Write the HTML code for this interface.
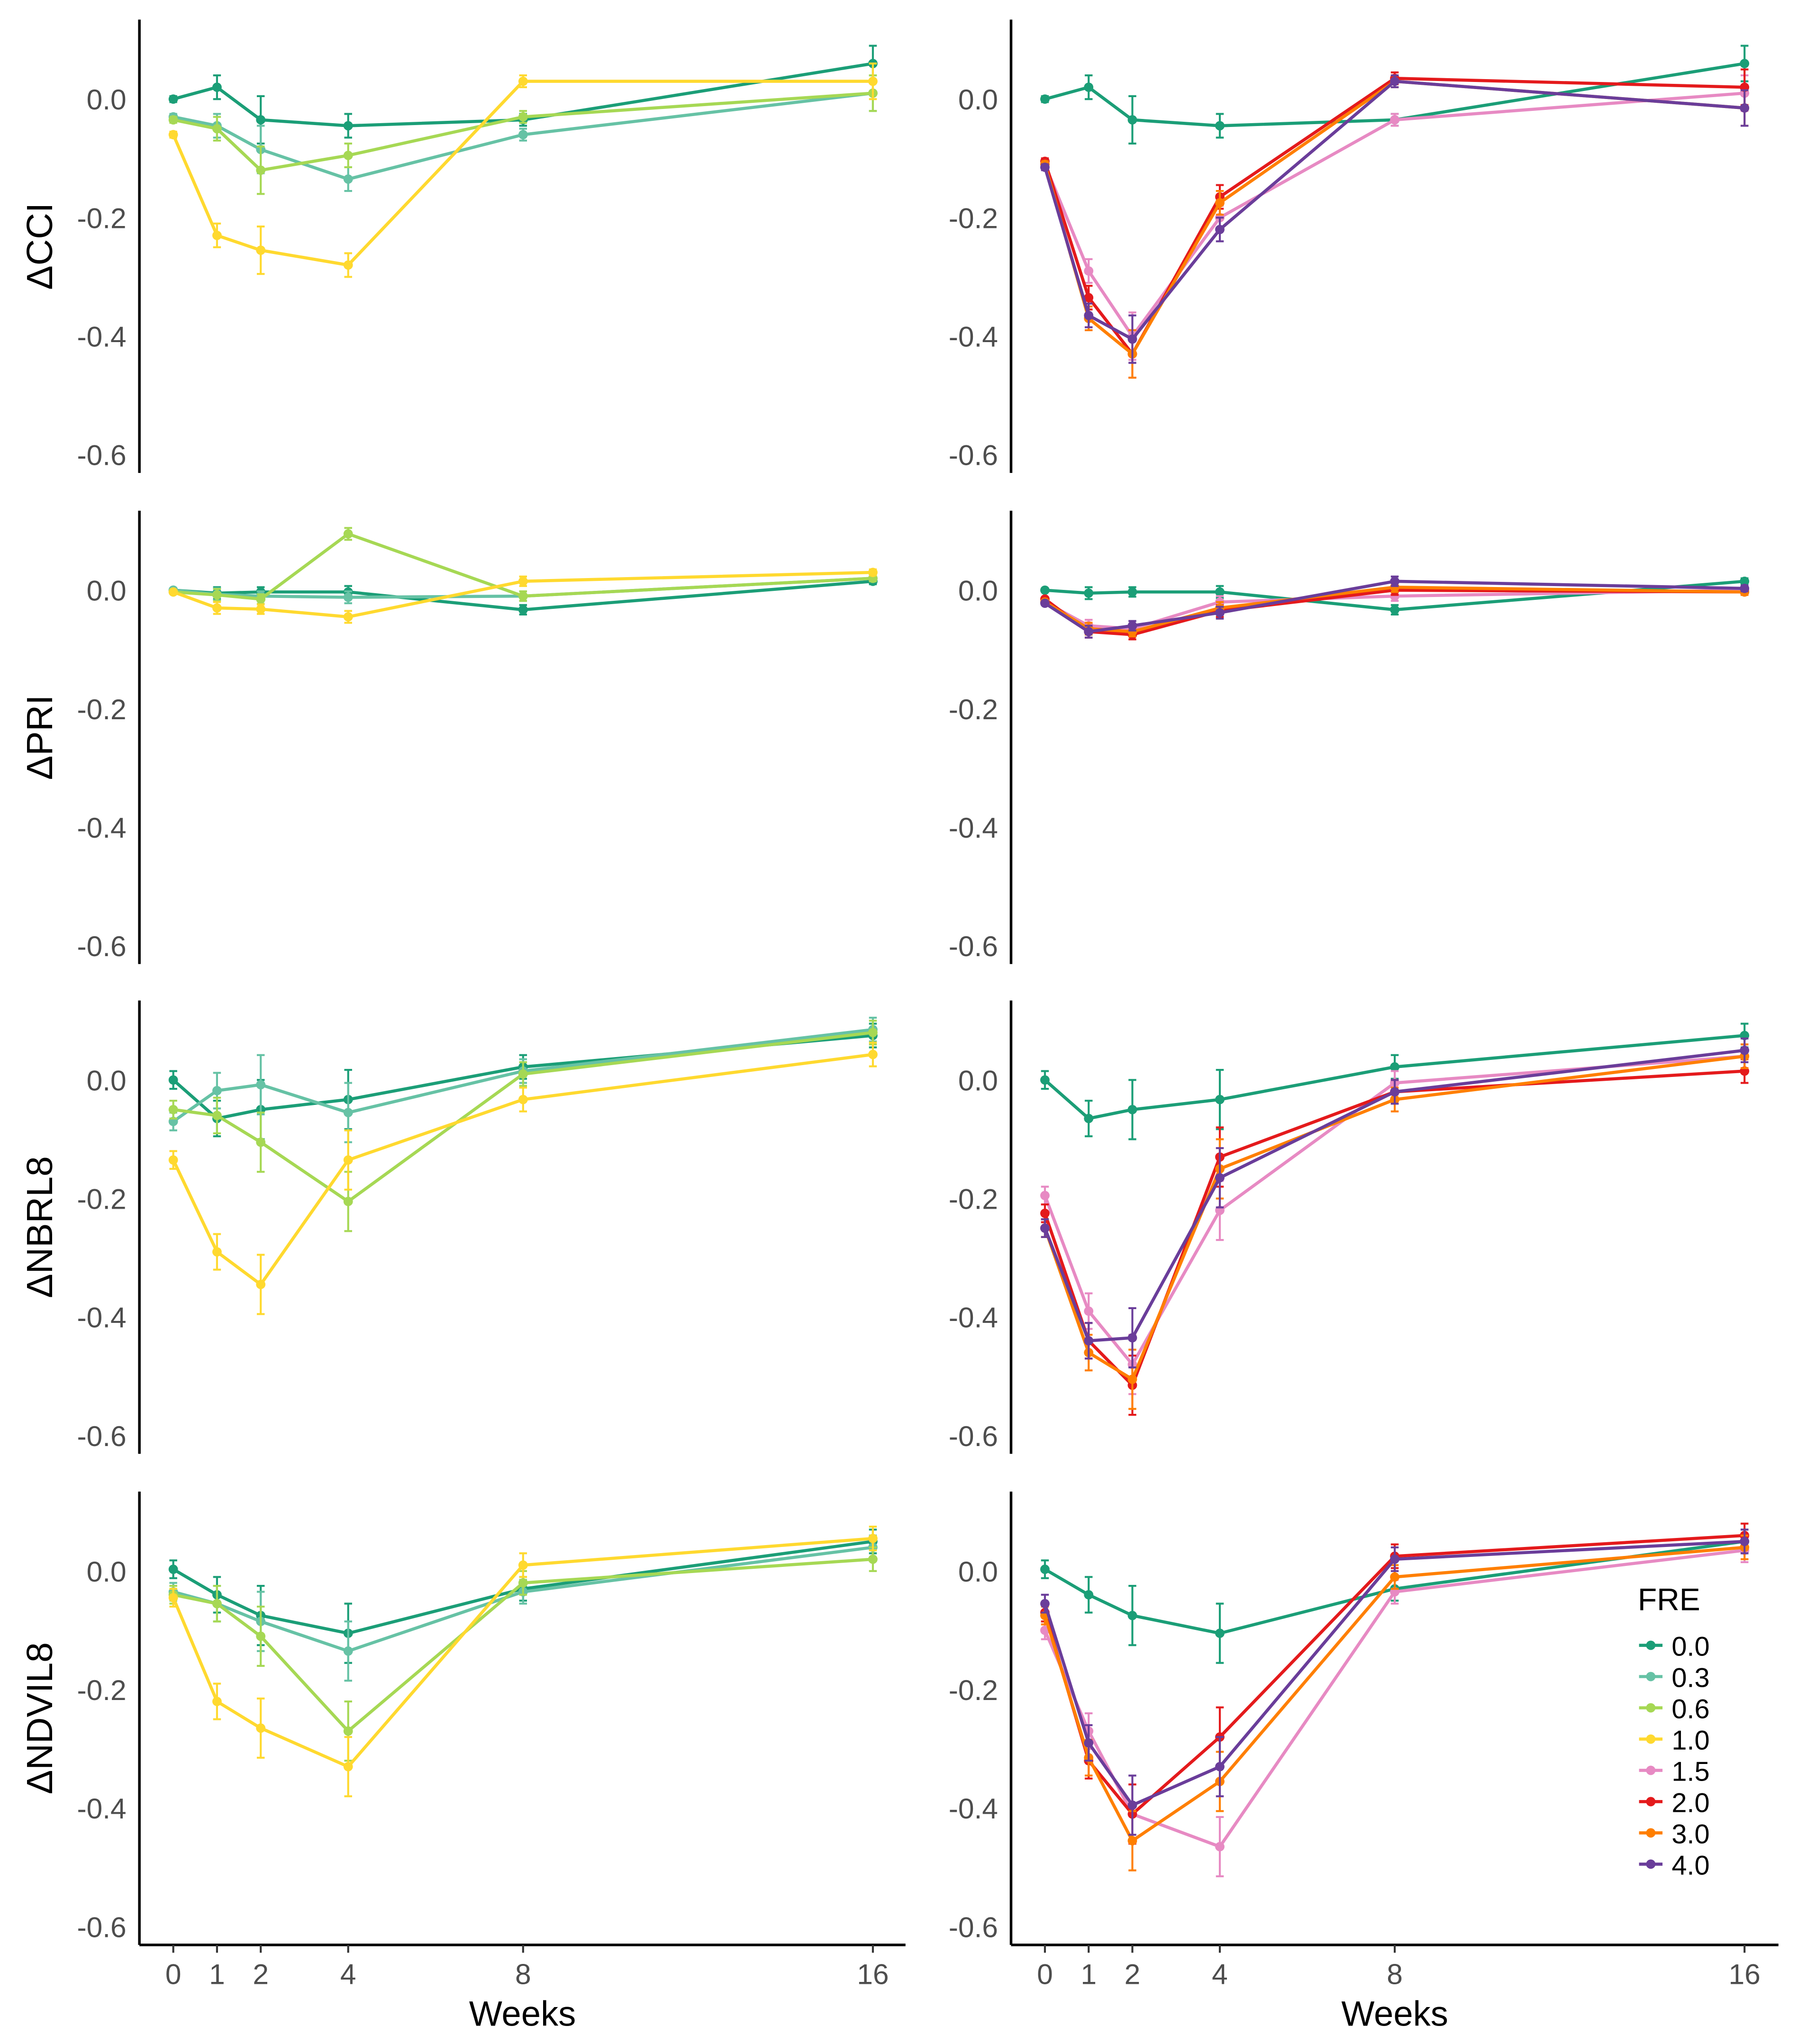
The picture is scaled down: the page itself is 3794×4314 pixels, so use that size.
<!DOCTYPE html>
<html><head><meta charset="utf-8">
<style>
html,body{margin:0;padding:0;background:#fff;}
svg{display:block;font-family:"Liberation Sans",sans-serif;}
</style></head>
<body>
<svg id="chart" width="3794" height="4314" viewBox="0 0 1380 1569" xmlns="http://www.w3.org/2000/svg">
<rect width="1380" height="1569" fill="#fff"/>
</svg>
<script>
const weeks = [0,1,2,4,8,16];
const yTicks = [0.0,-0.2,-0.4,-0.6];
const yTickLabels = ["0.0","-0.2","-0.4","-0.6"];
const rowTitles = ["ΔCCI","ΔPRI","ΔNBRL8","ΔNDVIL8"];
const groups = ["0.0","0.3","0.6","1.0","1.5","2.0","3.0","4.0"];
const colors = ["#1b9e77","#66c2a5","#a6d854","#ffd92f","#e78ac3","#e41a1c","#ff7f00","#6a3d9a"];

// CCI
const cci_00 = [0,0.02,-0.035,-0.045,-0.035,0.06];
const cci_03 = [-0.03,-0.045,-0.085,-0.135,-0.06,0.01];
const cci_06 = [-0.035,-0.05,-0.12,-0.095,-0.03,0.01];
const cci_10 = [-0.06,-0.23,-0.255,-0.28,0.03,0.03];
const cci_15 = [-0.11,-0.29,-0.40,-0.20,-0.035,0.01];
const cci_20 = [-0.105,-0.335,-0.43,-0.165,0.035,0.02];
const cci_30 = [-0.11,-0.37,-0.43,-0.175,0.03,-0.015];
const cci_40 = [-0.115,-0.365,-0.405,-0.22,0.03,-0.015];
// PRI
const pri_00 = [0,-0.005,-0.003,-0.003,-0.033,0.015];
const pri_03 = [0,-0.007,-0.01,-0.012,-0.01,0.02];
const pri_06 = [-0.003,-0.008,-0.015,0.095,-0.01,0.02];
const pri_10 = [-0.003,-0.03,-0.032,-0.045,0.015,0.03];
const pri_15 = [-0.02,-0.06,-0.065,-0.02,-0.01,0.0];
const pri_20 = [-0.015,-0.07,-0.075,-0.035,0.0,-0.003];
const pri_30 = [-0.02,-0.065,-0.07,-0.03,0.005,-0.003];
const pri_40 = [-0.022,-0.07,-0.06,-0.038,0.015,0.003];
// NBR
const nbr_00 = [0,-0.065,-0.05,-0.033,0.022,0.075];
const nbr_03 = [-0.07,-0.018,-0.008,-0.055,0.015,0.085];
const nbr_06 = [-0.05,-0.06,-0.105,-0.205,0.01,0.08];
const nbr_10 = [-0.135,-0.29,-0.345,-0.135,-0.033,0.043];
const nbr_15 = [-0.195,-0.39,-0.48,-0.22,-0.005,0.04];
const nbr_20 = [-0.225,-0.44,-0.515,-0.13,-0.02,0.015];
const nbr_30 = [-0.25,-0.46,-0.505,-0.15,-0.033,0.04];
const nbr_40 = [-0.25,-0.44,-0.435,-0.165,-0.02,0.05];
// NDVI
const ndvi_00 = [0.003,-0.04,-0.075,-0.105,-0.03,0.05];
const ndvi_03 = [-0.035,-0.055,-0.085,-0.135,-0.035,0.04];
const ndvi_06 = [-0.04,-0.055,-0.11,-0.27,-0.02,0.02];
const ndvi_10 = [-0.045,-0.22,-0.265,-0.33,0.01,0.055];
const ndvi_15 = [-0.1,-0.27,-0.41,-0.465,-0.035,0.035];
const ndvi_20 = [-0.07,-0.32,-0.41,-0.28,0.025,0.06];
const ndvi_30 = [-0.075,-0.315,-0.455,-0.355,-0.01,0.04];
const ndvi_40 = [-0.055,-0.29,-0.395,-0.33,0.02,0.05];

// standard errors (approximate)
const errSmall = [0.005,0.02,0.04,0.02,0.01,0.03];
const errLarge = [0.015,0.03,0.05,0.05,0.02,0.02];
const errPri = [0.003,0.01,0.008,0.01,0.008,0.005];

const rowData = [
  [cci_00,cci_03,cci_06,cci_10,cci_15,cci_20,cci_30,cci_40],
  [pri_00,pri_03,pri_06,pri_10,pri_15,pri_20,pri_30,pri_40],
  [nbr_00,nbr_03,nbr_06,nbr_10,nbr_15,nbr_20,nbr_30,nbr_40],
  [ndvi_00,ndvi_03,ndvi_06,ndvi_10,ndvi_15,ndvi_20,ndvi_30,ndvi_40]
];
const rowErr = [errSmall, errPri, errLarge, errLarge];
const leftGroups = [0,1,2,3];
const rightGroups = [0,4,5,6,7];

const NS = "http://www.w3.org/2000/svg";
const svg = document.getElementById("chart");
function mk(tag, attrs, parent){
  const e = document.createElementNS(NS, tag);
  for (const k in attrs) e.setAttribute(k, attrs[k]);
  (parent||svg).appendChild(e);
  return e;
}
const rowZero = [76,453,829,1206];
const unitPx = 455;
const colX0 = [133,802];
const weekPx = 33.56;
const colAxisX = [107,776];
const colAxisEnd = [695,1365];

function xScale(c,w){ return colX0[c] + w*weekPx; }
function yScale(r,v){ return rowZero[r] - v*unitPx; }

for (let r=0;r<4;r++){
  for (let c=0;c<2;c++){
    const g = mk("g",{});
    
    
    const top = rowZero[r]-61, bot = rowZero[r]+287;
    const ax = mk("line",{x1:colAxisX[c],x2:colAxisX[c],y1:top,y2:bot,stroke:"#000","stroke-width":2},g);
    
    
    yTicks.forEach((t,i)=>{
      const tx = mk("text",{x:colAxisX[c]-10,y:yScale(r,t)+8,"text-anchor":"end","font-size":22,fill:"#4d4d4d"},g);
      tx.textContent = yTickLabels[i];
      
      
    });
    if (r===3){
      const xa = mk("line",{x1:colAxisX[c],x2:colAxisEnd[c],y1:bot,y2:bot,stroke:"#000","stroke-width":2},g);
      
      
      weeks.forEach(w=>{
        mk("line",{x1:xScale(c,w),x2:xScale(c,w),y1:bot,y2:bot+6,stroke:"#333","stroke-width":1.5},g);
        const tl = mk("text",{x:xScale(c,w),y:bot+30,"text-anchor":"middle","font-size":22,fill:"#4d4d4d"},g);
        tl.textContent = String(w);
        
        
      });
      const xt = mk("text",{x:(colAxisX[c]+colAxisEnd[c])/2,y:bot+62,"text-anchor":"middle","font-size":27,fill:"#000"},g);
      xt.textContent = "Weeks";
      
      
    }
    if (c===0){
      const cy = (top+bot)/2;
      const yt = mk("text",{x:40,y:cy,"text-anchor":"middle","font-size":28,fill:"#000",transform:`rotate(-90 40 ${cy})`},g);
      yt.textContent = rowTitles[r];
      
      
    }
    const gl = c===0 ? leftGroups : rightGroups;
    gl.forEach(gi=>{
      const vals = rowData[r][gi];
      const err = rowErr[r];
      const col = colors[gi];
      const sg = mk("g",{},g);
      
      
      weeks.forEach((w,i)=>{
        const x = xScale(c,w), y1 = yScale(r,vals[i]+err[i]), y2 = yScale(r,vals[i]-err[i]);
        mk("line",{x1:x,x2:x,y1:y1,y2:y2,stroke:col,"stroke-width":1.5},sg);
        mk("line",{x1:x-3,x2:x+3,y1:y1,y2:y1,stroke:col,"stroke-width":1.5},sg);
        mk("line",{x1:x-3,x2:x+3,y1:y2,y2:y2,stroke:col,"stroke-width":1.5},sg);
      });
      const pts = weeks.map((w,i)=>xScale(c,w)+","+yScale(r,vals[i])).join(" ");
      const pl = mk("polyline",{points:pts,fill:"none",stroke:col,"stroke-width":2.4},sg);
      
      
      weeks.forEach((w,i)=>{
        const p = mk("circle",{cx:xScale(c,w),cy:yScale(r,vals[i]),r:3.6,fill:col},sg);
        
        
      });
    });
  }
}
// legend
const lg = mk("g",{});


const lt = mk("text",{x:1257,y:1236,"font-size":24,fill:"#000"},lg);
lt.textContent = "FRE";


groups.forEach((gname,i)=>{
  const y = 1263 + i*24;
  const e = mk("g",{},lg);
  
  
  mk("line",{x1:1258,x2:1276,y1:y,y2:y,stroke:colors[i],"stroke-width":2.4},e);
  mk("circle",{cx:1267,cy:y,r:3.6,fill:colors[i]},e);
  const t = mk("text",{x:1283,y:y+8,"font-size":21,fill:"#000"},e);
  t.textContent = gname;
});
</script>
</body></html>
